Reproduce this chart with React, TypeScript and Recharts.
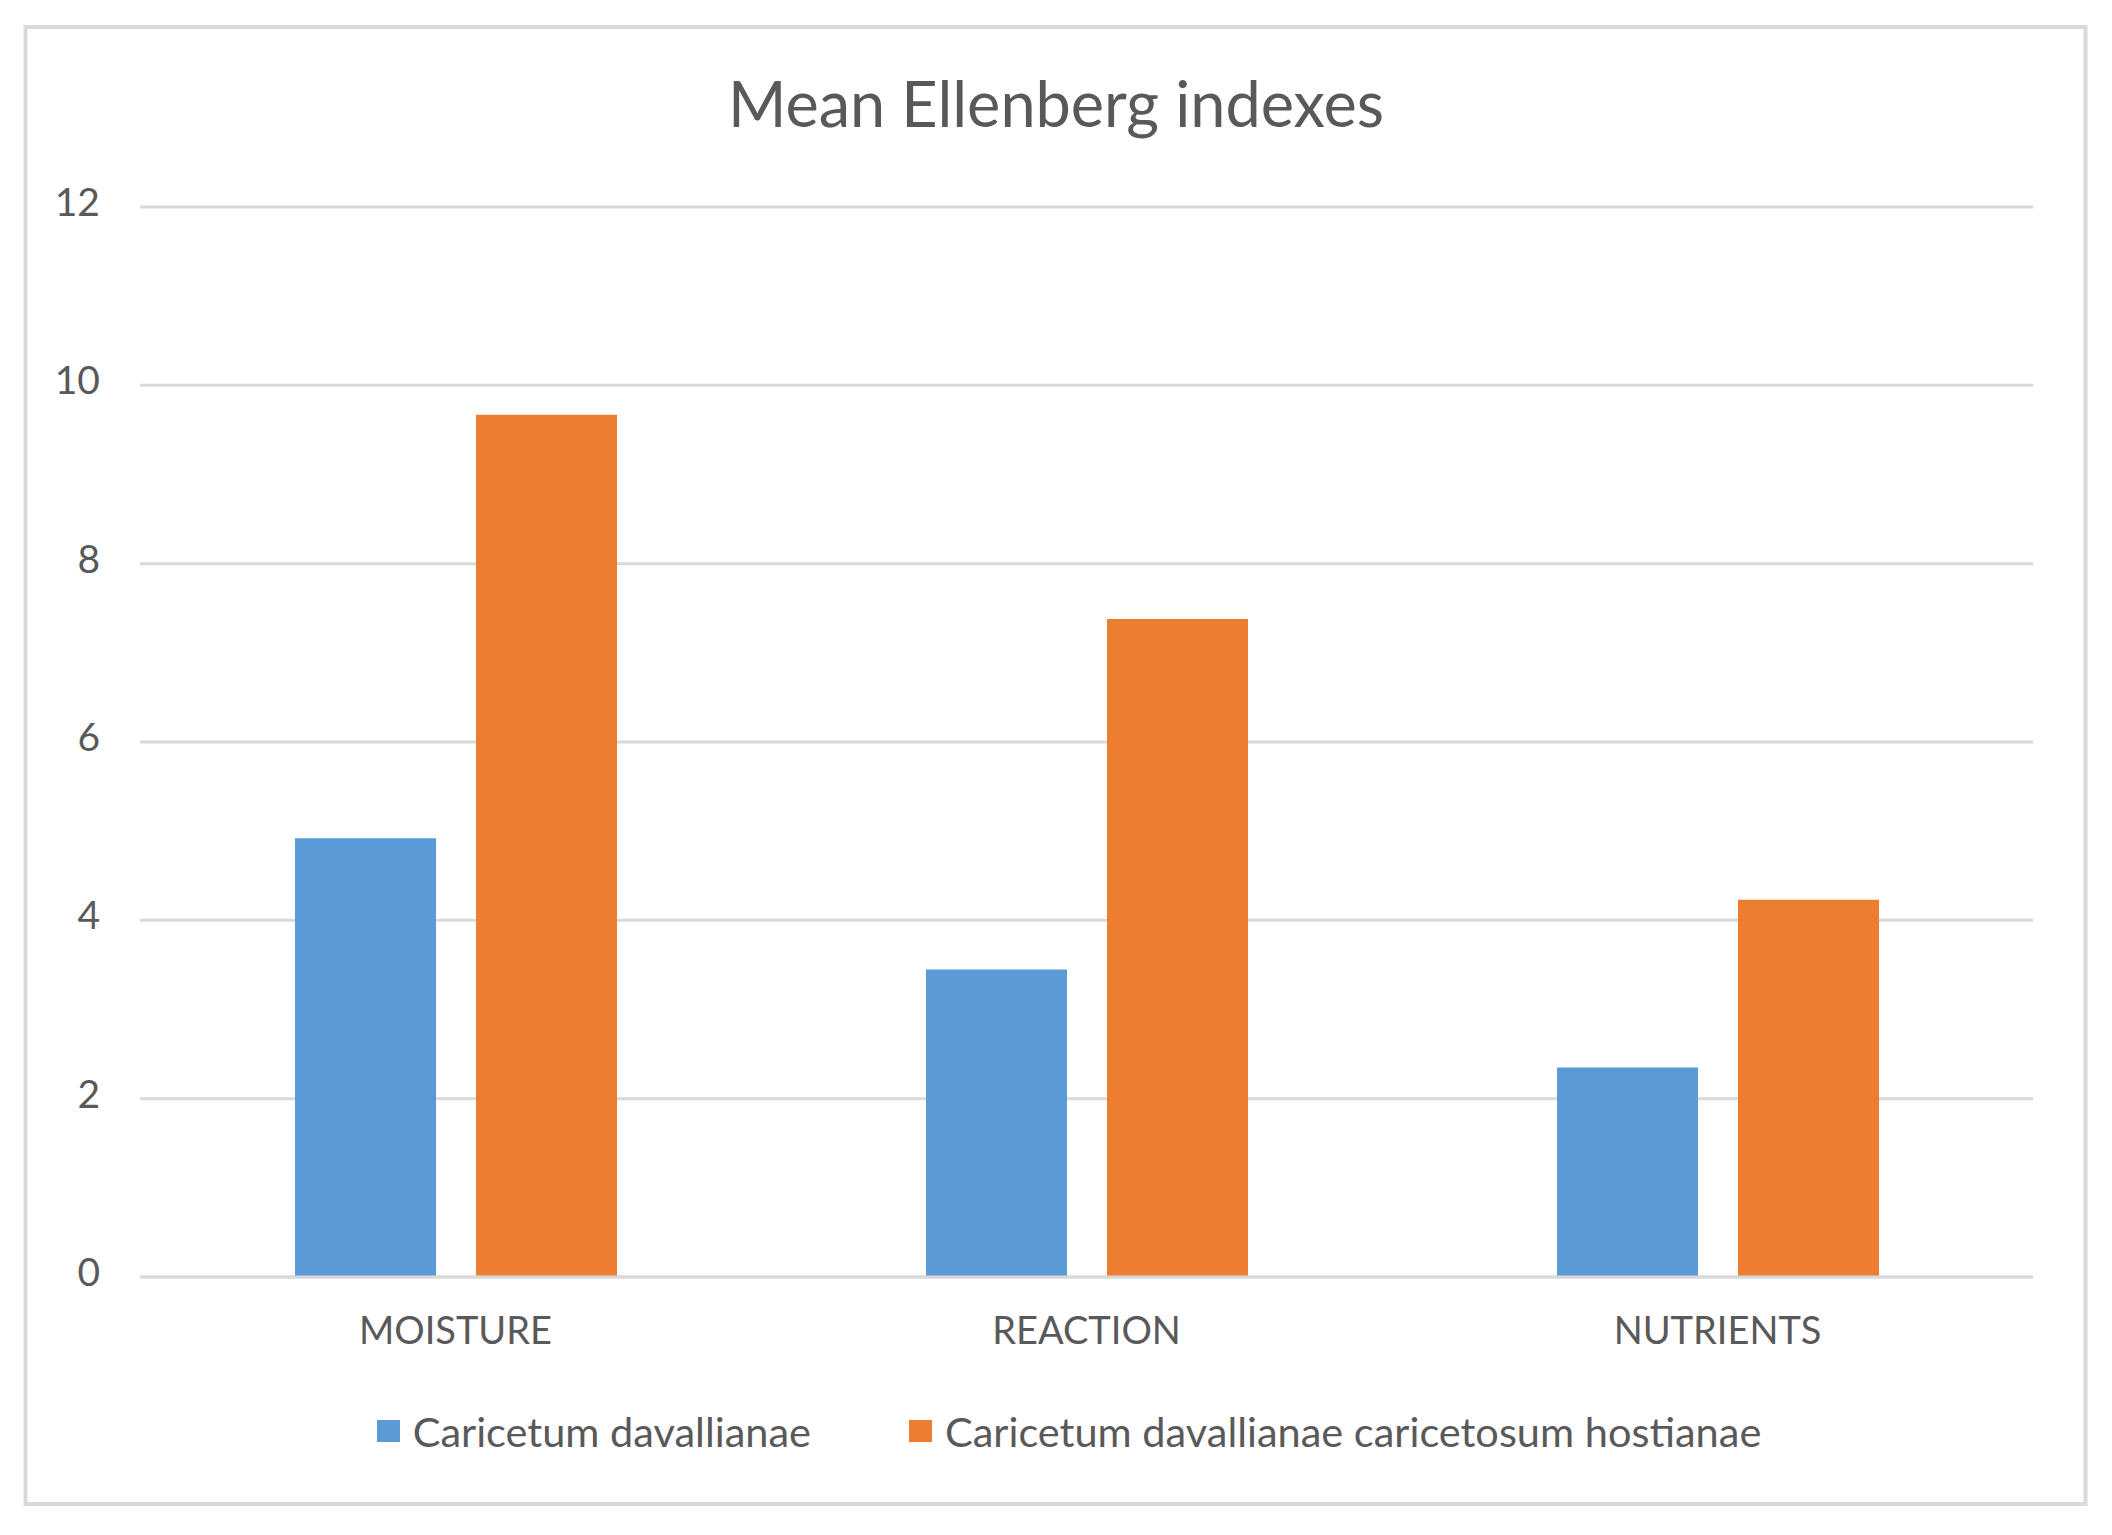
import { BarChart, Bar, XAxis, YAxis, CartesianGrid, Legend } from 'recharts';

const categories = ['MOISTURE', 'REACTION', 'NUTRIENTS'];
const davallianae = [4.92, 3.45, 2.35];
const hostianae = [9.67, 7.38, 4.23];
const yTicks = [0, 2, 4, 6, 8, 10, 12];

const seriesNames = ['Caricetum davallianae', 'Caricetum davallianae caricetosum hostianae'];

const data = categories.map((c, i) => ({
    category: c,
    davallianae: davallianae[i],
    hostianae: hostianae[i],
}));

const FONT = 'Lato, "Open Sans", sans-serif';
const TEXT = '#595959';
const GRID = '#d9d9d9';

const W = 2112;
const H = 1535;

const LegendContent = ({ payload }: any) => (
    <div
        style={{
            height: 60,
            display: 'flex',
            alignItems: 'center',
            justifyContent: 'center',
            fontFamily: FONT,
            fontSize: 41.5,
            color: TEXT,
            paddingLeft: 26,
        }}
    >
        {(payload || []).map((p: any, i: number) => (
            <div key={i} style={{ display: 'flex', alignItems: 'center', marginRight: i === 0 ? 98 : 0 }}>
                <span style={{ width: 23, height: 22, background: p.color, display: 'inline-block', marginRight: 13 }} />
                <span>{p.value}</span>
            </div>
        ))}
    </div>
);

export default function App() {
    return (
        <div style={{ position: 'absolute', left: 0, top: 0, width: W, height: H, background: '#fff' }}>
            <BarChart
                width={W}
                height={H}
                data={data}
                margin={{ top: 207, right: 79, left: 0, bottom: 74 }}
                barGap={40}
                barSize={141}
            >
                <CartesianGrid vertical={false} stroke={GRID} strokeWidth={3} />
                <XAxis
                    dataKey="category"
                    height={124}
                    axisLine={{ stroke: GRID, strokeWidth: 3 }}
                    tickLine={false}
                    tickSize={0}
                    tickMargin={40}
                    tick={{ fontSize: 38, fill: TEXT, fontFamily: FONT }}
                />
                <YAxis
                    width={140}
                    domain={[0, 12]}
                    ticks={yTicks}
                    axisLine={false}
                    tickLine={false}
                    tickSize={0}
                    tickMargin={40}
                    tick={{ fontSize: 39, fill: TEXT, fontFamily: FONT, dy: -5 }}
                />
                <Legend
                    verticalAlign="bottom"
                    content={<LegendContent />}
                    wrapperStyle={{ left: 0, width: W }}
                />
                <Bar dataKey="davallianae" name={seriesNames[0]} fill="#5b9bd5" isAnimationActive={false} />
                <Bar dataKey="hostianae" name={seriesNames[1]} fill="#ed7d31" isAnimationActive={false} />
            </BarChart>
            <svg
                width={W}
                height={H}
                style={{ position: 'absolute', left: 0, top: 0, pointerEvents: 'none' }}
            >
                <rect x={25.5} y={27} width={2060} height={1477} fill="none" stroke={GRID} strokeWidth={4} />
                <text x={1056} y={127} textAnchor="middle" fontFamily={FONT} fontSize={63} fill={TEXT}>
                    Mean Ellenberg indexes
                </text>
            </svg>
        </div>
    );
}
